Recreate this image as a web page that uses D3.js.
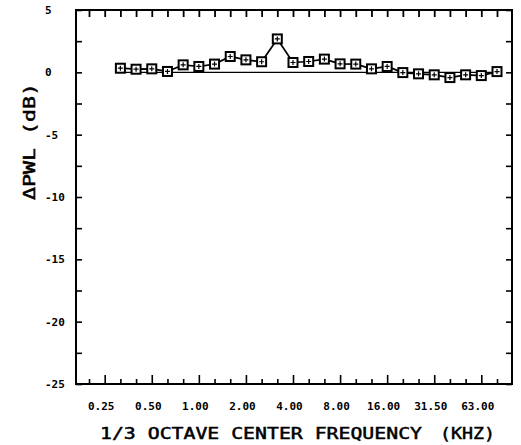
<!DOCTYPE html>
<html>
<head>
<meta charset="utf-8">
<script src="https://cdn.jsdelivr.net/npm/d3@7"></script>
<style>
  html, body { margin: 0; padding: 0; background: #fff; }
  svg { display: block; }
</style>
</head>
<body>
<script>
// 1/3 octave band centre frequencies (kHz) used as the x-axis tick positions
const bandTicks = ["0.2","0.25","0.315","0.4","0.5","0.63","0.8","1","1.25","1.6","2","2.5","3.15","4","5","6.3","8","10","12.5","16","20","25","31.5","40","50","63","80"];
// labelled ticks and their text
const labelledBands = ["0.25","0.5","1","2","4","8","16","31.5","63"];
const xTickLabels = ["0.25","0.50","1.00","2.00","4.00","8.00","16.00","31.50","63.00"];
// measured bands and delta PWL (dB)
const dataBands = ["0.315","0.4","0.5","0.63","0.8","1","1.25","1.6","2","2.5","3.15","4","5","6.3","8","10","12.5","16","20","25","31.5","40","50","63","80"];
const deltaPWL = [0.33,0.25,0.28,0.07,0.60,0.47,0.66,1.27,1.00,0.85,2.68,0.79,0.87,1.06,0.68,0.66,0.28,0.47,-0.02,-0.12,-0.20,-0.42,-0.20,-0.26,0.06];
// reference (zero difference) line
const referenceLevel = 0;
// y axis ticks
const yMajorTicks = [5,0,-5,-10,-15,-20,-25];
const yMinorTicks = [2.5,-2.5,-7.5,-12.5,-17.5,-22.5];

const W = 521, H = 445;
const frame = {left: 76, right: 512, top: 10, bottom: 384};

const svg = d3.select("body").append("svg").attr("width", W).attr("height", H);

const x = d3.scalePoint().domain(bandTicks).range([89, 497]);
const y = d3.scaleLinear().domain([-25, 5]).range([frame.bottom, frame.top]);

const tickFont = "'DejaVu Sans Mono', monospace";

// frame
svg.append("rect")
  .attr("x", frame.left).attr("y", frame.top)
  .attr("width", frame.right - frame.left).attr("height", frame.bottom - frame.top)
  .attr("fill", "none").attr("stroke", "#000").attr("stroke-width", 2);

// bottom axis: minor ticks
const isLabelled = d => labelledBands.includes(d);
svg.append("g").attr("transform", `translate(0,${frame.bottom})`)
  .call(d3.axisBottom(x).tickValues(bandTicks.filter(d => !isLabelled(d))).tickSize(-5).tickFormat(""))
  .call(g => g.select(".domain").remove())
  .call(g => g.selectAll("line").attr("stroke-width", 1.6));
// bottom axis: labelled major ticks
svg.append("g").attr("transform", `translate(0,${frame.bottom})`)
  .call(d3.axisBottom(x).tickValues(labelledBands).tickSize(-9).tickPadding(0)
    .tickFormat(d => xTickLabels[labelledBands.indexOf(d)]))
  .call(g => g.select(".domain").remove())
  .call(g => g.selectAll("line").attr("stroke-width", 1.6))
  .call(g => g.selectAll("text")
    .attr("y", 0).attr("dy", "0").attr("transform", "translate(-4,26)")
    .attr("font-family", tickFont).attr("font-weight", "bold")
    .attr("font-size", "11px").attr("fill", "#000"));

// top axis
svg.append("g").attr("transform", `translate(0,${frame.top})`)
  .call(d3.axisTop(x).tickValues(bandTicks).tickSize(-7).tickFormat(""))
  .call(g => g.select(".domain").remove())
  .call(g => g.selectAll("line").attr("stroke-width", 1.8));

// left axis
svg.append("g").attr("transform", `translate(${frame.left},0)`)
  .call(d3.axisLeft(y).tickValues(yMajorTicks.concat(yMinorTicks)).tickSize(-6).tickFormat(""))
  .call(g => g.select(".domain").remove())
  .call(g => g.selectAll("line").attr("stroke-width", 1.6));
svg.append("g").selectAll("text").data(yMajorTicks).join("text")
  .attr("x", 45).attr("y", d => y(d)).attr("dy", "0.35em")
  .attr("font-family", tickFont).attr("font-weight", "bold").attr("font-size", "11px")
  .text(d => d < 0 ? "-" + Math.abs(d) : String(d));

// right axis
svg.append("g").attr("transform", `translate(${frame.right},0)`)
  .call(d3.axisRight(y).tickValues(yMajorTicks.concat(yMinorTicks)).tickSize(-6).tickFormat(""))
  .call(g => g.select(".domain").remove())
  .call(g => g.selectAll("line").attr("stroke-width", 1.6));

// reference line at 0 dB
svg.append("line")
  .attr("x1", x(dataBands[0])).attr("x2", x(dataBands[dataBands.length - 1]))
  .attr("y1", y(referenceLevel)).attr("y2", y(referenceLevel))
  .attr("stroke", "#000").attr("stroke-width", 1.3);

// data line
const pts = dataBands.map((b, i) => [x(b), y(deltaPWL[i])]);
svg.append("path").attr("d", d3.line()(pts))
  .attr("fill", "none").attr("stroke", "#000").attr("stroke-width", 1.7);

// markers: square with inner cross
const mk = svg.append("g").selectAll("g").data(pts).join("g")
  .attr("transform", d => `translate(${d[0]},${d[1]})`);
mk.append("rect").attr("x", -4.5).attr("y", -4.5).attr("width", 9).attr("height", 9)
  .attr("fill", "#fff").attr("stroke", "#000").attr("stroke-width", 2);
mk.append("path").attr("d", "M-2.5,0H2.5M0,-2.5V2.5")
  .attr("stroke", "#000").attr("stroke-width", 1.2);

// axis titles
const titleStyle = t => t.attr("font-family", tickFont).attr("font-size", "16px")
  .attr("stroke", "#000").attr("stroke-width", 0.5).attr("fill", "#000");
svg.append("text")
  .attr("x", 100).attr("y", 439)
  .attr("textLength", 322).attr("lengthAdjust", "spacingAndGlyphs")
  .call(titleStyle)
  .text("1/3 OCTAVE CENTER FREQUENCY");
svg.append("text")
  .attr("x", 440).attr("y", 439)
  .attr("textLength", 55).attr("lengthAdjust", "spacingAndGlyphs")
  .call(titleStyle)
  .text("(KHZ)");

svg.append("text")
  .attr("transform", "translate(35,200) rotate(-90)")
  .attr("textLength", 117).attr("lengthAdjust", "spacingAndGlyphs")
  .call(titleStyle)
  .text("ΔPWL  (dB)");
</script>
</body>
</html>
